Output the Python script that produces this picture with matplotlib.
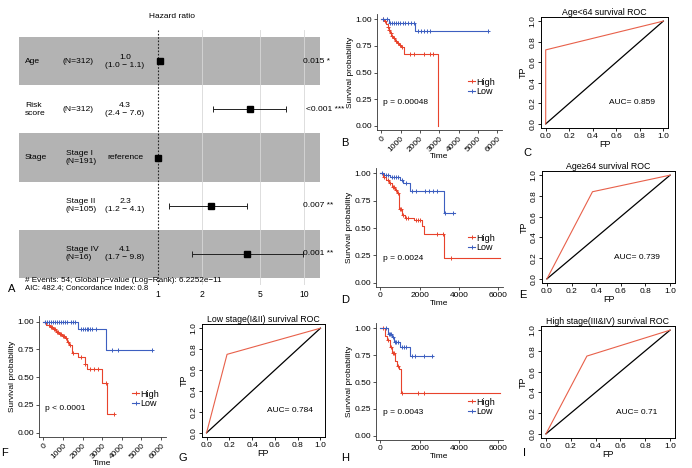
import numpy as np
import matplotlib.pyplot as plt
from matplotlib.lines import Line2D

plt.rcParams['font.family'] = ['Liberation Sans', 'DejaVu Sans']

W, H = 692, 468

# ---- forest plot data (panel A)
var_labels = ['Age', 'Risk\nscore', 'Stage', '', '']
n_labels = ['(N=312)', '(N=312)', 'Stage I\n(N=191)', 'Stage II\n(N=105)', 'Stage IV\n(N=16)']
hr_labels = ['1.0\n(1.0 \u2212 1.1)', '4.3\n(2.4 \u2212 7.6)', 'reference',
             '2.3\n(1.2 \u2212 4.1)', '4.1\n(1.7 \u2212 9.8)']
p_labels = ['0.015 *', '<0.001 ***', '', '0.007 **', '0.001 **']
hr = [1.03, 4.3, 1.0, 2.3, 4.1]
hr_lo = [1.01, 2.4, np.nan, 1.2, 1.7]
hr_hi = [1.05, 7.6, np.nan, 4.1, 9.8]
hr_ticks = [1, 2, 5, 10]

# ---- Kaplan-Meier data (time, survival steps; censored times)
km = {
    'B': dict(
        high_t=[0, 120, 250, 330, 400, 450, 520, 600, 700, 800, 900, 1000, 1170, 2950],
        high_s=[1.0, 0.98, 0.96, 0.93, 0.90, 0.87, 0.84, 0.82, 0.80, 0.78, 0.76, 0.74, 0.67, 0.0],
        high_c=[100, 200, 350, 420, 480, 560, 650, 750, 850, 950, 1050, 1500, 1700, 2200, 2500, 2700],
        low_t=[0, 400, 1760, 5500],
        low_s=[1.0, 0.97, 0.89, 0.89],
        low_c=[100, 300, 450, 550, 650, 750, 850, 950, 1100, 1250, 1400, 1550, 1700,
               1900, 2050, 2200, 2350, 2500, 5500],
        p='p = 0.00048'),
    'D': dict(
        high_t=[0, 150, 300, 450, 600, 750, 850, 970, 1100, 1250, 1700, 2100, 2250, 3250, 6100],
        high_s=[1.0, 0.97, 0.94, 0.91, 0.88, 0.85, 0.82, 0.67, 0.62, 0.59, 0.57, 0.52, 0.45, 0.23, 0.23],
        high_c=[200, 400, 500, 650, 700, 800, 900, 1000, 1050, 1150, 1300, 1400, 1800, 1900,
                2000, 2900, 3200, 3600],
        low_t=[0, 200, 500, 1000, 1150, 1500, 3250, 3800],
        low_s=[1.0, 0.99, 0.97, 0.94, 0.91, 0.84, 0.64, 0.64],
        low_c=[100, 300, 400, 600, 700, 800, 900, 1100, 1300, 1600, 1800, 2300, 2500, 2700,
               2900, 3300, 3700],
        p='p = 0.0024'),
    'F': dict(
        high_t=[0, 150, 350, 500, 650, 800, 950, 1100, 1200, 1300, 1450, 1780, 2100, 2250,
                3000, 3220, 3560],
        high_s=[1.0, 0.97, 0.95, 0.93, 0.91, 0.89, 0.87, 0.85, 0.82, 0.79, 0.72, 0.68, 0.62,
                0.57, 0.45, 0.17, 0.17],
        high_c=[300, 400, 450, 550, 600, 700, 750, 850, 900, 1000, 1050, 1150, 1250, 1350,
                1500, 1900, 2100, 2400, 2600, 2800, 3200, 3600],
        low_t=[0, 1780, 3200, 5550],
        low_s=[1.0, 0.93, 0.74, 0.74],
        low_c=[100, 200, 300, 400, 500, 600, 700, 800, 900, 1000, 1100, 1200, 1400, 1500,
               1600, 1900, 2000, 2100, 2200, 2300, 2400, 2500, 2700, 3500, 3800, 5550],
        p='p < 0.0001'),
    'H': dict(
        high_t=[0, 250, 350, 470, 600, 750, 850, 970, 1050, 6100],
        high_s=[1.0, 0.93, 0.89, 0.83, 0.77, 0.70, 0.65, 0.62, 0.40, 0.40],
        high_c=[150, 400, 550, 650, 700, 900, 1100, 1900, 2200],
        low_t=[0, 400, 600, 700, 1000, 1500, 2700],
        low_s=[1.0, 0.95, 0.92, 0.87, 0.83, 0.74, 0.74],
        low_c=[300, 450, 500, 550, 650, 750, 800, 900, 1100, 1200, 1300, 1600, 1750, 2200, 2650],
        p='p = 0.0043'),
}

# ---- ROC data
roc = {
    'C': dict(fp=[0, 0.0, 1.0], tp=[0, 0.72, 1.0], title='Age<64 survival ROC', auc='AUC= 0.859'),
    'E': dict(fp=[0, 0.37, 1.0], tp=[0, 0.84, 1.0], title='Age\u226564 survival ROC', auc='AUC= 0.739'),
    'G': dict(fp=[0, 0.18, 1.0], tp=[0, 0.75, 1.0], title='Low stage(I&II) survival ROC', auc='AUC= 0.784'),
    'I': dict(fp=[0, 0.33, 1.0], tp=[0, 0.75, 1.0], title='High stage(III&IV) survival ROC', auc='AUC= 0.71'),
}

RED = '#E8432C'
BLUE = '#3D5FC0'
ROC_RED = '#E8604A'


def rect(x0, y0, x1, y1):
    return [x0 / W, 1 - y1 / H, (x1 - x0) / W, (y1 - y0) / H]


fig = plt.figure(figsize=(W / 100, H / 100), dpi=100)

# ================= panel A: forest plot
FS_A = 6.1
axA = fig.add_axes(rect(19, 30, 320, 285))
axA.set_xscale('log')
axA.set_xlim(0.1117, 12.9)
axA.set_ylim(5.15, -0.15)
for i in range(5):
    if i % 2 == 0:
        axA.axhspan(i, i + 1, color='#B3B3B3', lw=0, zorder=0)
for t in hr_ticks[1:]:
    axA.axvline(t, color='#D8D8D8', lw=0.6, zorder=0.5)
axA.axvline(1, color='#222222', lw=0.8, ls=(0, (1.5, 1.5)), zorder=1)
tf = axA.get_yaxis_transform()
for i in range(5):
    yc = i + 0.5
    if not np.isnan(hr_lo[i]) and i != 0:
        axA.errorbar(hr[i], yc, xerr=[[hr[i] - hr_lo[i]], [hr_hi[i] - hr[i]]],
                     fmt='none', ecolor='#222222', elinewidth=0.7, capsize=2.5, capthick=0.7)
    axA.plot(hr[i], yc, marker='s', ms=4.2, color='black', zorder=3)
    axA.text(0.02, yc, var_labels[i], transform=tf, ha='left', va='center', fontsize=FS_A,
             linespacing=1.1)
    axA.text(0.146 if i < 2 else 0.155, yc, n_labels[i], transform=tf, ha='left', va='center',
             fontsize=FS_A, linespacing=1.1)
    axA.text(0.352, yc, hr_labels[i], transform=tf, ha='center', va='center', fontsize=FS_A,
             linespacing=1.1)
    axA.text(0.943 if i != 1 else 0.955, yc, p_labels[i], transform=tf, ha='left', va='center',
             fontsize=FS_A, clip_on=False)
axA.set_xticks(hr_ticks)
axA.set_xticklabels([str(t) for t in hr_ticks], fontsize=6.2)
axA.tick_params(axis='x', length=0, pad=3.5)
axA.minorticks_off()
axA.set_yticks([])
for s in axA.spines.values():
    s.set_visible(False)
fig.text(172 / W, 1 - 17 / H, 'Hazard ratio', ha='center', va='center', fontsize=6)
fig.text(25 / W, 1 - 281 / H, '# Events: 54; Global p\u2212value (Log\u2212Rank): 6.2252e\u221211',
         ha='left', va='center', fontsize=5.9)
fig.text(25 / W, 1 - 288 / H, 'AIC: 482.4; Concordance Index: 0.8',
         ha='left', va='center', fontsize=5.6)


# ================= KM panels
def step_val(ts, ss, x):
    idx = np.searchsorted(ts, x, side='right') - 1
    return np.asarray(ss)[idx]


def km_panel(key, box, rotate, ptxt, leg_xy):
    d = km[key]
    ax = fig.add_axes(rect(*box))
    for grp, col in (('high', RED), ('low', BLUE)):
        t, s, c = d[grp + '_t'], d[grp + '_s'], d[grp + '_c']
        ax.step(t, s, where='post', color=col, lw=0.8)
        ax.plot(c, step_val(t, s, c), ls='none', marker='+', ms=3.5, mew=0.7, color=col)
    ax.set_xlim(-220, 6250)
    ax.set_ylim(-0.04, 1.05)
    ax.set_yticks([0, 0.25, 0.5, 0.75, 1.0])
    ax.set_yticklabels(['0.00', '0.25', '0.50', '0.75', '1.00'], fontsize=6)
    if rotate:
        ax.set_xticks(range(0, 7000, 1000))
        ax.set_xticklabels([str(v) for v in range(0, 7000, 1000)], fontsize=6,
                           rotation=45, ha='right', rotation_mode='anchor')
    else:
        ax.set_xticks([0, 2000, 4000, 6000])
        ax.set_xticklabels(['0', '2000', '4000', '6000'], fontsize=6)
    ax.tick_params(length=2, width=0.6, pad=1.5, colors='#333333', labelcolor='black')
    for side in ('top', 'right'):
        ax.spines[side].set_visible(False)
    for side in ('left', 'bottom'):
        ax.spines[side].set_linewidth(0.6)
        ax.spines[side].set_color('#333333')
    ax.set_ylabel('Survival probability', fontsize=6, labelpad=1)
    ax.set_xlabel('Time', fontsize=6, labelpad=0 if rotate else 0.5)
    fig.text(ptxt[0] / W, 1 - ptxt[1] / H, d['p'], ha='left', va='center', fontsize=6)
    handles = [Line2D([], [], color=RED, marker='+', lw=0.8, ms=3.5, mew=0.7),
               Line2D([], [], color=BLUE, marker='+', lw=0.8, ms=3.5, mew=0.7)]
    fig.legend(handles, ['High', 'Low'], loc='center left',
               bbox_to_anchor=(leg_xy[0] / W, 1 - leg_xy[1] / H), frameon=False,
               fontsize=6.5, handlelength=0.8, handletextpad=0.1, labelspacing=0.1,
               borderpad=0, borderaxespad=0)
    return ax


km_panel('B', (377, 14, 502, 130), True, (383, 102), (468, 87))
km_panel('D', (376, 168, 503, 287), False, (383, 258), (468, 243))
km_panel('F', (39, 316, 166, 437), True, (45, 408), (132, 399))
km_panel('H', (376, 323, 503, 440), False, (383, 413), (468, 407))


# ================= ROC panels
def roc_panel(key, box):
    d = roc[key]
    ax = fig.add_axes(rect(*box))
    ax.plot([0, 1], [0, 1], color='black', lw=0.9)
    ax.plot(d['fp'], d['tp'], color=ROC_RED, lw=0.8)
    ax.set_xlim(-0.04, 1.04)
    ax.set_ylim(-0.04, 1.04)
    ticks = [0, 0.2, 0.4, 0.6, 0.8, 1.0]
    ax.set_xticks(ticks)
    ax.set_xticklabels(['%.1f' % v for v in ticks], fontsize=6)
    ax.set_yticks(ticks)
    ax.set_yticklabels(['%.1f' % v for v in ticks], fontsize=6, rotation=90, va='center')
    ax.tick_params(length=2.5, width=0.6, pad=1)
    for s in ax.spines.values():
        s.set_linewidth(0.7)
    ax.set_xlabel('FP', fontsize=6.5, labelpad=0)
    ax.set_ylabel('TP', fontsize=6.5, labelpad=1)
    ax.set_title(d['title'], fontsize=6.3, pad=1.5)
    ax.text(0.73, 0.21, d['auc'], ha='center', va='center', fontsize=6)
    return ax


roc_panel('C', (541, 17, 668, 128))
roc_panel('E', (542, 171, 675, 283))
roc_panel('G', (202, 324, 325, 437))
roc_panel('I', (541, 326, 675, 438))

# panel letters
letters = {'A': (12, 289), 'B': (345, 143), 'C': (527, 153), 'D': (345, 300),
           'E': (523, 295), 'F': (4, 453), 'G': (183, 458), 'H': (345, 458), 'I': (524, 453)}
for k, (x, y) in letters.items():
    fig.text(x / W, 1 - y / H, k, ha='center', va='center', fontsize=8)

fig.savefig('out.png', dpi=100)
